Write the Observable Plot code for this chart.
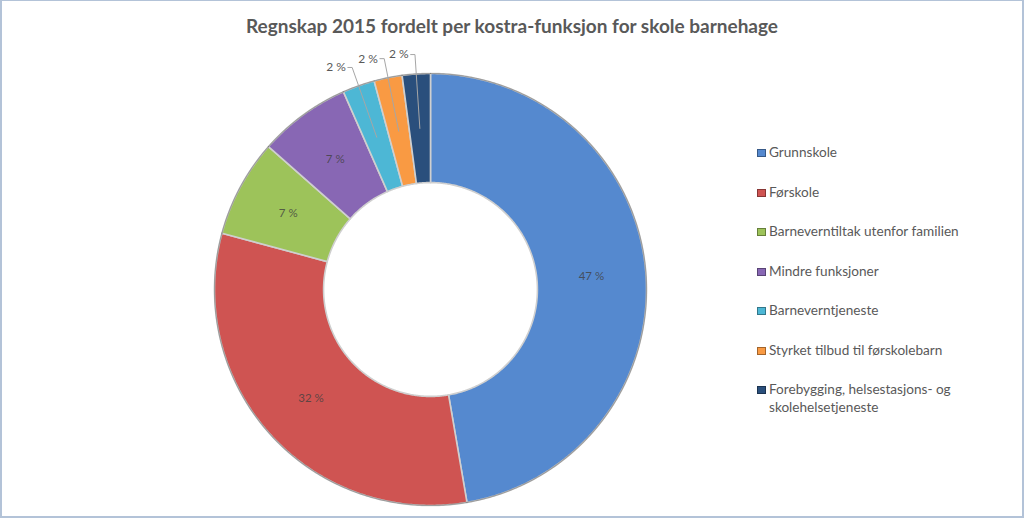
<!DOCTYPE html>
<html><head><meta charset="utf-8">
<script src="https://cdn.jsdelivr.net/npm/d3@7"></script>
<script src="https://cdn.jsdelivr.net/npm/@observablehq/plot@0.6"></script>
<style>
body{margin:0;background:#fff;}
#frame{position:relative;width:1024px;height:518px;box-sizing:border-box;border-style:solid;border-color:#b3c3d8;border-width:1px 2px 2px 2px;overflow:hidden;font-family:Lato,sans-serif;background:#fff;}
#title{position:absolute;left:0;right:0;top:13px;text-align:center;font-weight:bold;font-size:19px;line-height:24px;color:#595959;}
#chart{position:absolute;left:0;top:0;}
#legend{position:absolute;left:755px;top:142px;font-size:13.6px;color:#595959;}
.item{display:flex;align-items:flex-start;height:39.5px;line-height:18px;}
.sw{width:7px;height:6px;margin-top:6px;margin-right:3px;flex:none;border:1px solid rgba(0,0,0,0.35);}
.lab{width:210px;}
</style></head>
<body><div id="frame"><div id="chart"></div><div id="title"></div><div id="legend"></div></div>
<script>
const title = "Regnskap 2015 fordelt per kostra-funksjon for skole barnehage";
const categories = ["Grunnskole", "Førskole", "Barneverntiltak utenfor familien", "Mindre funksjoner", "Barneverntjeneste", "Styrket tilbud til førskolebarn", "Forebygging, helsestasjons- og skolehelsetjeneste"];
const shares = [47.3, 31.9, 7.3, 6.9, 2.4, 2.1, 2.1];
const colors = ["#5589cf", "#cf5452", "#9dc35a", "#8867b4", "#4db7d5", "#f99a43", "#2a4f7c"];

const innerR = 0.495, outerR = 1;
const pie = d3.pie().sort(null).value(d => d)(shares);

// slice polygons (angle clockwise from top)
const rings = [];
const rims = [];
pie.forEach((p, i) => {
  const a0 = p.startAngle, a1 = p.endAngle;
  const n = Math.max(4, Math.ceil((a1 - a0) / 0.01));
  const poly = [];
  for (let k = 0; k <= n; k++) { const a = a0 + (a1 - a0) * k / n; poly.push({cat: categories[i], x: outerR * Math.sin(a), y: outerR * Math.cos(a)}); }
  rims.push(...poly.map(d => ({...d})));
  for (let k = n; k >= 0; k--) { const a = a0 + (a1 - a0) * k / n; poly.push({cat: categories[i], x: innerR * Math.sin(a), y: innerR * Math.cos(a)}); }
  poly.push({...poly[0]});
  rings.push(...poly);
});

const mids = pie.map((p, i) => ({cat: categories[i], v: shares[i], a: (p.startAngle + p.endAngle) / 2, text: Math.round(shares[i]) + " %"}));
const insideLabels = mids.filter(d => d.v >= 5);
const outsideLabels = mids.filter(d => d.v < 5);
const midR = (innerR + outerR) / 2, elbowR = 1.09, elbowDx = 0.02;
const leaders = [];
outsideLabels.forEach(d => {
  leaders.push({cat: d.cat, x: midR * Math.sin(d.a), y: midR * Math.cos(d.a)});
  leaders.push({cat: d.cat, x: elbowR * Math.sin(d.a), y: elbowR * Math.cos(d.a)});
  leaders.push({cat: d.cat, x: elbowR * Math.sin(d.a) - elbowDx, y: elbowR * Math.cos(d.a)});
});

const cx = 428, cy = 288, rad = 216;
const chart = Plot.plot({
  width: 1020, height: 515,
  style: {fontFamily: "Lato, sans-serif", background: "transparent", overflow: "visible"},
  x: {domain: [-1, 1], range: [cx - rad, cx + rad], axis: null},
  y: {domain: [-1, 1], range: [cy + rad, cy - rad], axis: null},
  color: {domain: categories, range: colors},
  marks: [
    Plot.line(rings, {x: "x", y: "y", z: "cat", fill: "cat", stroke: "#cfcfcf", strokeWidth: 1.6, curve: "linear", strokeLinejoin: "round"}),
    Plot.line(rims, {x: "x", y: "y", z: "cat", stroke: "#404040", strokeOpacity: 0.35, strokeWidth: 1.2, curve: "linear"}),
    Plot.line(leaders, {x: "x", y: "y", z: "cat", stroke: "#a6a6a6", strokeWidth: 1, curve: "linear"}),
    Plot.text(insideLabels, {x: d => midR * Math.sin(d.a), y: d => midR * Math.cos(d.a), text: "text", fill: "#404040", fillOpacity: 0.8, fontSize: 11.5}),
    Plot.text(outsideLabels, {x: d => elbowR * Math.sin(d.a) - elbowDx, y: d => elbowR * Math.cos(d.a), text: "text", textAnchor: "end", dx: -2, fill: "#595959", fontSize: 12})
  ]
});
document.getElementById("chart").appendChild(chart);
document.getElementById("title").textContent = title;

const colorScale = chart.scale("color");
const leg = d3.select("#legend");
categories.forEach(c => {
  const it = leg.append("div").attr("class", "item");
  it.append("span").attr("class", "sw").style("background", colorScale.apply(c));
  it.append("span").attr("class", "lab").text(c);
});
</script>
</body></html>
